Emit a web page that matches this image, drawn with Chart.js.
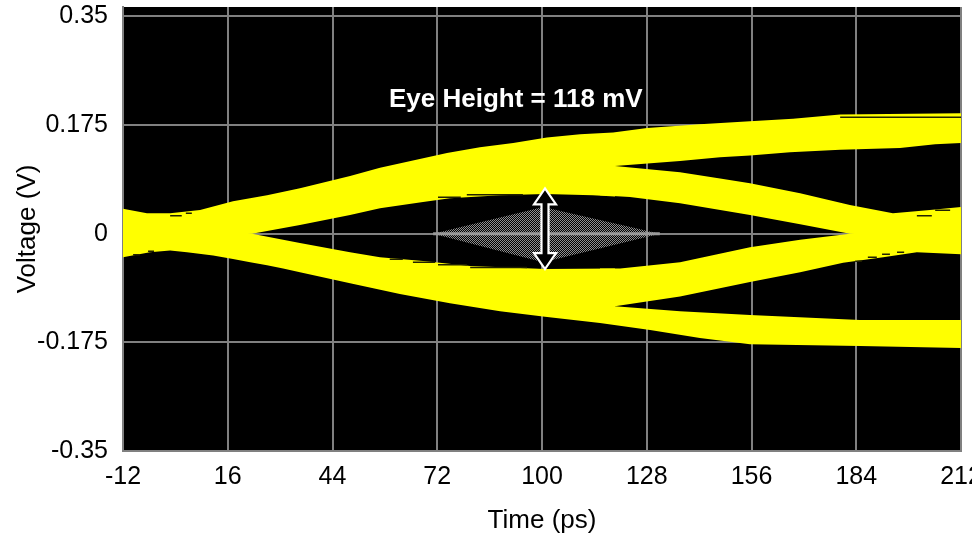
<!DOCTYPE html>
<html><head><meta charset="utf-8">
<script src="https://cdn.jsdelivr.net/npm/chart.js@4.4.1/dist/chart.umd.min.js"></script>
<style>html,body{margin:0;padding:0;background:#fff;overflow:hidden}canvas{display:block}</style>
</head><body>
<canvas id="c" width="972" height="536"></canvas>
<script>
// ---- axes ----
const xTicks = [-12, 16, 44, 72, 100, 128, 156, 184, 212];
const yTicks = [-0.35, -0.175, 0, 0.175, 0.35];
const yTickLabels = ['-0.35', '-0.175', '0', '0.175', '0.35'];

// ---- eye diagram regions (time in ps, voltage in V) ----
// upper arm: from the left crossing up to the "1" level
const upperArmTime = [-12, -5.6, 0.6, 8.6, 17.4, 26.5, 35.3, 48.7, 56.7, 65.5, 74.6, 83.4, 92.3, 101.3, 110.2, 119.0, 128.1, 142.2, 155.6, 167.1, 179.7, 212,
  212, 205.1, 195.7, 179.7, 166.3, 155.6, 147.6, 136.9, 119.5,
  119.5, 113.6, 100.8, 88.8, 75.4, 68.2, 56.7, 48.7, 35.3, 22.5, -12];
const upperArmVolt = [0.040, 0.033, 0.033, 0.038, 0.052, 0.062, 0.073, 0.093, 0.106, 0.118, 0.130, 0.139, 0.146, 0.155, 0.160, 0.163, 0.170, 0.176, 0.181, 0.185, 0.192, 0.194,
  0.146, 0.144, 0.138, 0.135, 0.131, 0.126, 0.123, 0.117, 0.109,
  0.060, 0.062, 0.064, 0.062, 0.057, 0.051, 0.041, 0.030, 0.014, 0, -0.011];
// falling transition into the right crossing
const fallingTime = [115.5, 119.5, 136.9, 147.6, 155.6, 169.0, 182.3, 193.8, 203.7, 212, 212, 182.3, 169.0, 155.6, 136.9, 123.5, 115.5];
const fallingVolt = [0.122, 0.109, 0.099, 0.089, 0.081, 0.065, 0.046, 0.033, 0.038, 0.043, -0.010, 0, 0.015, 0.030, 0.049, 0.059, 0.062];
// lower arm: from the left crossing down to the "0" level
const lowerArmTime = [-12, -4.8, 0.6, 5.1, 12.1, 17.4, 22.0, 26.5, 30.8, 35.3, 48.7, 62.0, 75.4, 88.8, 100.8, 115.5, 128.9, 142.2, 155.6, 185.0, 212,
  212, 185.0, 155.6, 136.9, 119.5,
  119.5, 100.8, 80.8, 68.2, 56.7, 48.7, 35.3, 22.5, -12];
const lowerArmVolt = [-0.038, -0.030, -0.027, -0.030, -0.035, -0.041, -0.046, -0.051, -0.056, -0.062, -0.080, -0.097, -0.112, -0.125, -0.134, -0.144, -0.155, -0.168, -0.178, -0.181, -0.184,
  -0.139, -0.139, -0.131, -0.125, -0.117,
  -0.056, -0.057, -0.052, -0.044, -0.038, -0.030, -0.015, 0, 0.014];
// rising transition into the right crossing
const risingTime = [115.5, 120.9, 136.9, 155.6, 169.0, 182.3, 212, 212, 200.2, 191.2, 180.5, 169.0, 155.6, 136.9, 119.5, 115.5];
const risingVolt = [-0.056, -0.056, -0.046, -0.022, -0.010, 0, 0.006, -0.033, -0.030, -0.038, -0.047, -0.062, -0.078, -0.101, -0.117, -0.124];
// isolated dark trace segments inside the yellow bands
const dashStart = [179.7, 72.2, 79.9, 59.3, 65.5, 72.2, 80.8, 0.6, 4.8, -9.3, -5.3, 200.2, 205.1, 183.7, 187.1, 190.9, 194.9];
const dashEnd   = [212.0, 78.3, 94.9, 62.8, 71.4, 79.9, 96.0, 3.7, 6.4, -7.5, -3.7, 204.2, 209.1, 185.5, 189.5, 193.0, 196.8];
const dashVolt  = [0.1876, 0.0588, 0.0628, -0.0411, -0.0459, -0.0499, -0.0547, 0.029, 0.033, -0.0338, -0.0282, 0.029, 0.0378, -0.0443, -0.0378, -0.033, -0.0298];
// eye mask (hatched diamond) and its centre line
const maskTime = [70.9, 100.3, 131.5, 100.3, 70.9];
const maskVolt = [0, 0.043, 0, -0.046, 0];
const maskLineTime = [70.9, 131.5];
const maskLineVolt = [0, 0];
// eye height marker
const arrowTime = 100.8;
const arrowTopVolt = 0.073;
const arrowBottomVolt = -0.057;
const eyeLabel = 'Eye Height = 118 mV';
const eyeLabelTime = 93.0;
const eyeLabelVolt = 0.216;

const FONT = '"Liberation Sans", Arial, Helvetica, sans-serif';
const YELLOW = '#ffff00';

function pts(t, v) { return t.map((x, i) => ({x: x, y: v[i]})); }
function dashPts() {
  const out = [];
  dashStart.forEach((t0, i) => {
    out.push({x: t0, y: dashVolt[i]}, {x: dashEnd[i], y: dashVolt[i]}, {x: dashEnd[i], y: null});
  });
  return out;
}

const ctx = document.getElementById('c').getContext('2d');
const pc = document.createElement('canvas'); pc.width = 2; pc.height = 2;
const pctx = pc.getContext('2d');
pctx.fillStyle = '#8f8f8f'; pctx.fillRect(0, 0, 1, 1); pctx.fillRect(1, 1, 1, 1);
const hatch = ctx.createPattern(pc, 'repeat');

function poly(label, t, v, color) {
  return {label, data: pts(t, v), backgroundColor: color, borderColor: 'rgba(0,0,0,0)', borderWidth: 0,
    pointRadius: 0, tension: 0, fill: 'shape'};
}

const bgPlugin = {
  id: 'bg',
  beforeDraw(chart) {
    const c = chart.ctx, a = chart.chartArea;
    c.save();
    c.fillStyle = '#fff'; c.fillRect(0, 0, chart.width, chart.height);
    c.fillStyle = '#000'; c.fillRect(a.left, a.top, a.right - a.left, a.bottom - a.top);
    c.restore();
  }
};
const markPlugin = {
  id: 'mark',
  afterDatasetsDraw(chart) {
    const c = chart.ctx, xs = chart.scales.x, ys = chart.scales.y;
    const x = xs.getPixelForValue(arrowTime);
    const y1 = ys.getPixelForValue(arrowTopVolt), y2 = ys.getPixelForValue(arrowBottomVolt);
    const hw = 11, hh = 16, sw = 3.5;
    c.save();
    c.beginPath();
    c.moveTo(x, y1);
    c.lineTo(x + hw, y1 + hh); c.lineTo(x + sw, y1 + hh); c.lineTo(x + sw, y2 - hh); c.lineTo(x + hw, y2 - hh);
    c.lineTo(x, y2);
    c.lineTo(x - hw, y2 - hh); c.lineTo(x - sw, y2 - hh); c.lineTo(x - sw, y1 + hh); c.lineTo(x - hw, y1 + hh);
    c.closePath();
    c.fillStyle = '#000'; c.fill();
    c.lineWidth = 2.2; c.strokeStyle = '#fff'; c.lineJoin = 'miter'; c.stroke();
    c.font = 'bold 26px ' + FONT;
    c.fillStyle = '#fff'; c.textAlign = 'center'; c.textBaseline = 'middle';
    c.fillText(eyeLabel, xs.getPixelForValue(eyeLabelTime), ys.getPixelForValue(eyeLabelVolt));
    c.restore();
  }
};

new Chart(ctx, {
  type: 'line',
  data: {
    datasets: [
      {label: 'maskLine', data: pts(maskLineTime, maskLineVolt), borderColor: '#9a9a9a', borderWidth: 3,
        pointRadius: 0, fill: false, tension: 0},
      {label: 'traces', data: dashPts(), borderColor: '#222200', borderWidth: 1.5,
        pointRadius: 0, fill: false, tension: 0, spanGaps: false},
      poly('mask', maskTime, maskVolt, hatch),
      poly('upper', upperArmTime, upperArmVolt, YELLOW),
      poly('falling', fallingTime, fallingVolt, YELLOW),
      poly('lower', lowerArmTime, lowerArmVolt, YELLOW),
      poly('rising', risingTime, risingVolt, YELLOW)
    ]
  },
  options: {
    responsive: false, animation: false, events: [],
    devicePixelRatio: 1,
    layout: {padding: {top: 7, right: 11, bottom: 0, left: 0}},
    plugins: {legend: {display: false}, tooltip: {enabled: false}},
    scales: {
      x: {
        type: 'linear', min: -12, max: 212,
        afterBuildTicks: s => { s.ticks = xTicks.map(v => ({value: v})); },
        afterFit: s => { s.height = 85; s.paddingLeft = 0; s.paddingRight = 0; },
        ticks: {color: '#000', font: {family: FONT, size: 25}, padding: 11, maxRotation: 0, autoSkip: false},
        grid: {color: '#808080', lineWidth: 2, drawTicks: false},
        border: {display: true, color: '#808080', width: 2},
        title: {display: true, text: 'Time (ps)', color: '#000', font: {family: FONT, size: 26}, padding: {top: 0, bottom: 0}}
      },
      y: {
        type: 'linear', min: -0.35, max: 0.365,
        afterBuildTicks: s => { s.ticks = yTicks.map(v => ({value: v})); },
        afterFit: s => { s.width = 123; s.paddingTop = 0; s.paddingBottom = 0; },
        ticks: {color: '#000', font: {family: FONT, size: 25}, padding: 15, autoSkip: false,
          callback: v => { const i = yTicks.indexOf(v); return i >= 0 ? yTickLabels[i] : ''; }},
        grid: {color: '#808080', lineWidth: 2, drawTicks: false},
        border: {display: true, color: '#808080', width: 2},
        title: {display: true, text: 'Voltage (V)', color: '#000', font: {family: FONT, size: 26}, padding: {top: 12, bottom: 0}}
      }
    }
  },
  plugins: [bgPlugin, markPlugin]
});
</script>
</body></html>
